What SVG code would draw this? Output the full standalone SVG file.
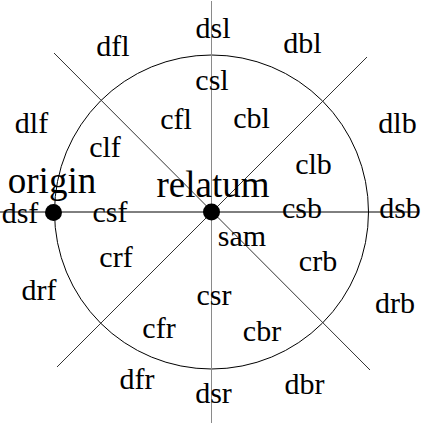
<svg xmlns="http://www.w3.org/2000/svg" width="426" height="425" viewBox="0 0 426 425">
<style>
text{font-family:"Liberation Serif","Times New Roman",serif;fill:#000;text-anchor:middle}
.s{font-size:30px}
.b{font-size:37px}
.ln{fill:none;stroke-width:1}
</style>
<rect width="426" height="425" fill="#fff"/>
<g id="connectors">
<circle class="ln" cx="211.5" cy="212" r="157" stroke="#000"/>
<line class="ln" x1="211.5" y1="1" x2="211.5" y2="423" stroke="#8a8a8a"/>
<line class="ln" x1="0" y1="212" x2="417" y2="212" stroke="#000"/>
<line class="ln" x1="54" y1="53" x2="370" y2="370" stroke="#333"/>
<line class="ln" x1="367" y1="57" x2="57" y2="367" stroke="#333"/>
</g>
<g id="relatum"><circle cx="211.5" cy="212" r="8.5"/><text class="b" x="213" y="197">relatum</text></g>
<g id="origin"><circle cx="53.5" cy="212.5" r="8.5"/><text class="b" x="52" y="193">origin</text></g>
<g id="dsl"><text class="s" x="213" y="38">dsl</text></g>
<g id="dfl"><text class="s" x="113" y="56">dfl</text></g>
<g id="dbl"><text class="s" x="302.5" y="53">dbl</text></g>
<g id="csl"><text class="s" x="212" y="90">csl</text></g>
<g id="cfl"><text class="s" x="176" y="129">cfl</text></g>
<g id="cbl"><text class="s" x="251.5" y="128">cbl</text></g>
<g id="dlf"><text class="s" x="31.5" y="133">dlf</text></g>
<g id="dlb"><text class="s" x="397.5" y="133">dlb</text></g>
<g id="clf"><text class="s" x="105" y="157">clf</text></g>
<g id="clb"><text class="s" x="313.5" y="174">clb</text></g>
<g id="dsf"><text class="s" x="20" y="223">dsf</text></g>
<g id="csf"><text class="s" x="110" y="222">csf</text></g>
<g id="csb"><text class="s" x="302" y="218">csb</text></g>
<g id="dsb"><text class="s" x="400" y="218">dsb</text></g>
<g id="sam"><text class="s" x="242" y="246">sam</text></g>
<g id="crf"><text class="s" x="116" y="267">crf</text></g>
<g id="crb"><text class="s" x="318" y="271">crb</text></g>
<g id="drf"><text class="s" x="39" y="300">drf</text></g>
<g id="drb"><text class="s" x="395" y="313">drb</text></g>
<g id="csr"><text class="s" x="214" y="305">csr</text></g>
<g id="cfr"><text class="s" x="159" y="338">cfr</text></g>
<g id="cbr"><text class="s" x="262" y="341">cbr</text></g>
<g id="dfr"><text class="s" x="137" y="389">dfr</text></g>
<g id="dbr"><text class="s" x="304.5" y="394">dbr</text></g>
<g id="dsr"><text class="s" x="213.5" y="403">dsr</text></g>
</svg>
